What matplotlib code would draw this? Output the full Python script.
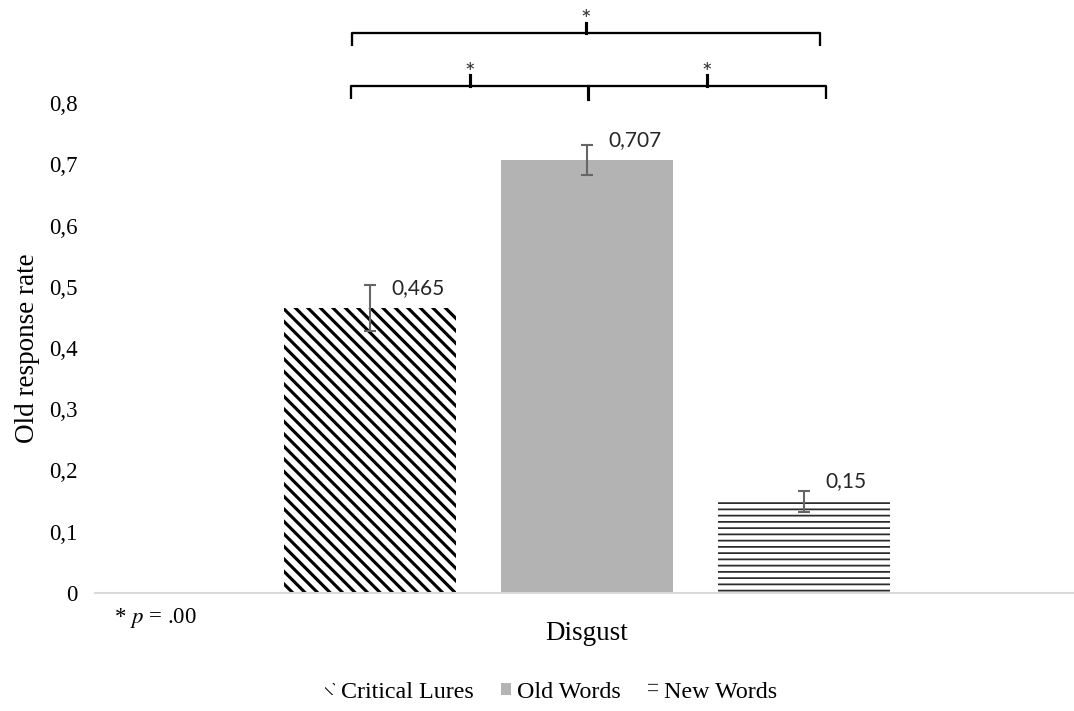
import numpy as np
import matplotlib
matplotlib.use("Agg")
import matplotlib.pyplot as plt

# data
conditions = ["Critical Lures", "Old Words", "New Words"]
rates = [0.465, 0.707, 0.15]
errors = [0.038, 0.025, 0.017]
value_labels = ["0,465", "0,707", "0,15"]
category = "Disgust"
ytick_values = [0, 0.1, 0.2, 0.3, 0.4, 0.5, 0.6, 0.7, 0.8]
ytick_labels = ["0", "0,1", "0,2", "0,3", "0,4", "0,5", "0,6", "0,7", "0,8"]

serif = "Liberation Serif"
plt.rcParams["mathtext.fontset"] = "stix"

DPI = 75
fig = plt.figure(figsize=(1074 / DPI, 711 / DPI), dpi=DPI)
ax = fig.add_axes([95 / 1074, 118 / 711, 984 / 1074, 490 / 711])

x = np.arange(len(rates))
styles = [
    dict(facecolor="white", edgecolor="black", hatch="\\\\", hlw=3.0),
    dict(facecolor="#b3b3b3", edgecolor="#b3b3b3", hatch=None, hlw=1.0),
    dict(facecolor="white", edgecolor="#2b2b2b", hatch="--", hlw=1.7),
]
for i in range(len(rates)):
    st = styles[i]
    with plt.rc_context({"hatch.linewidth": st["hlw"]}):
        b = ax.bar(x[i], rates[i], width=0.79, color=st["facecolor"],
                   edgecolor=st["edgecolor"], linewidth=0, hatch=st["hatch"],
                   label=conditions[i], zorder=2)
        for p in b.patches:
            if hasattr(p, "set_hatch_linewidth"):
                p.set_hatch_linewidth(st["hlw"])

ax.errorbar(x, rates, yerr=errors, fmt="none", ecolor="#666666",
            elinewidth=2, capsize=6, capthick=2, zorder=3)

for i in range(len(rates)):
    ax.text(x[i] + 0.1, rates[i] + 0.032, value_labels[i], fontsize=20,
            family="Lato", color="#262626", ha="left", va="center")

ax.set_xlim(-1.267, 3.267)
ax.set_ylim(0, 0.8)
ax.set_yticks(ytick_values)
ax.set_yticklabels(ytick_labels, fontsize=22, family=serif)
ax.set_xticks([])
ax.tick_params(axis="y", length=0, pad=17)
for s in ["top", "right", "left"]:
    ax.spines[s].set_visible(False)
ax.spines["bottom"].set_color("#d9d9d9")
ax.spines["bottom"].set_linewidth(2)

ax.set_ylabel("Old response rate", fontsize=26, family=serif, labelpad=8)
ax.set_xlabel(category, fontsize=26, family=serif, labelpad=27)

# significance brackets
def y_of(py):
    return (593 - py) / 612.5

kw = dict(color="black", lw=2.2, clip_on=False, solid_capstyle="butt")
# upper bracket
ax.plot([-0.083, -0.083, 2.074, 2.074], [y_of(46), y_of(33), y_of(33), y_of(46)], **kw)
ax.plot([0.995, 0.995], [y_of(33), y_of(23)], color="black", lw=3, clip_on=False)
ax.text(0.995, y_of(20), "*", ha="center", va="center", fontsize=24, family="Lato", color="#333333")
# lower bracket
ax.plot([-0.088, -0.088, 2.101, 2.101], [y_of(99), y_of(86), y_of(86), y_of(99)], **kw)
for tx in [0.461, 1.553]:
    ax.plot([tx, tx], [y_of(86), y_of(75)], color="black", lw=3, clip_on=False)
    ax.text(tx, y_of(73), "*", ha="center", va="center", fontsize=24, family="Lato", color="#333333")
ax.plot([1.005, 1.005], [y_of(86), y_of(99)], color="black", lw=3, clip_on=False)

fig.text(114 / 1074, 1 - 618 / 711, "* $p$ = .00", fontsize=22, family=serif,
         ha="left", va="center")

leg = fig.legend(loc="center", bbox_to_anchor=(551 / 1074, 1 - 692 / 711),
                 ncol=3, frameon=False, prop={"family": serif, "size": 23},
                 handlelength=0.42, handleheight=0.42, handletextpad=0.25,
                 columnspacing=1.15)

fig.savefig("out.png", dpi=DPI)
